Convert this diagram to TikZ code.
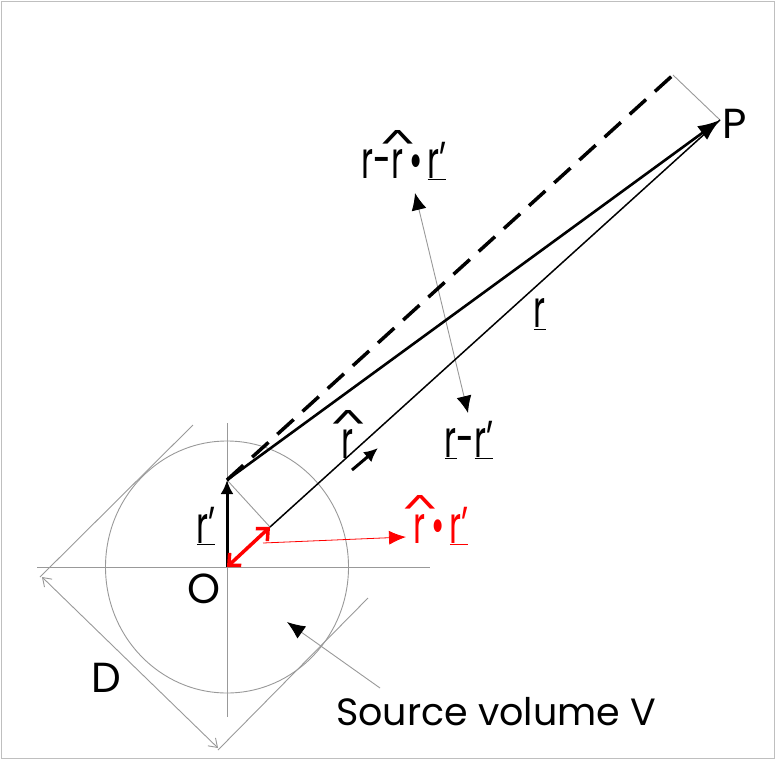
\documentclass[tikz,border=0pt]{standalone}
\usepackage{fontspec}
\usepackage{graphicx}
\setmainfont{Poppins}
\usetikzlibrary{arrows.meta}
\newcommand\ru{\underline{r}}
\newcommand\rpr{\underline{r\kern-0.02em’}}
\newcommand\rh{\ooalign{r\cr\hidewidth\raisebox{0.56em}{\scalebox{1.7}[0.5]{\textasciicircum}}\hidewidth\cr}}
\newcommand\lab[1]{\scalebox{0.62}[1]{#1}}
\begin{document}
\begin{tikzpicture}[x=1pt,y=-1pt,
  guide/.style={draw=black!40, line width=0.9pt},
  big/.style={font=\fontsize{42}{42}\selectfont, inner sep=0pt},
  lbl/.style={font=\fontsize{52}{52}\selectfont, inner sep=0pt},
  fat/.style={-{Latex[length=14pt,width=13pt]}, line width=3pt}]
\useasboundingbox (0,0) rectangle (776,760);
\draw[black!25, line width=1pt] (1.5,1.5) rectangle (774.5,758.5);

% key points
\coordinate (O) at (227,567);
\coordinate (Rp) at (227,480);
\coordinate (P) at (720,120);
\coordinate (Q) at (270,527);
\coordinate (Dend) at (673,75);
\coordinate (ax1) at (37,567);
\coordinate (ax2) at (430,567);
\coordinate (ay1) at (227,423);
\coordinate (ay2) at (227,717);
\coordinate (t1a) at (40,577);
\coordinate (t1b) at (193,425);
\coordinate (t2a) at (218,750);
\coordinate (t2b) at (368,598);
\coordinate (d1) at (42,577);
\coordinate (d2) at (218,748);
\coordinate (s1) at (380,688);
\coordinate (s2) at (287,622);
\coordinate (h1) at (352,470);
\coordinate (h2) at (378,448);
\coordinate (m1) at (415,193);
\coordinate (m2) at (468,413);
\coordinate (red1) at (263,543);
\coordinate (red2) at (406,537);

% axes, circle, tangents
\draw[guide] (ax1) -- (ax2);
\draw[guide] (ay1) -- (ay2);
\draw[guide] (O) ellipse [x radius=121.5pt, y radius=126pt];
\draw[guide] (t1a) -- (t1b);
\draw[guide] (t2a) -- (t2b);
\draw[guide, {Straight Barb[length=8pt,width=11pt]}-{Straight Barb[length=8pt,width=11pt]}] (d1) -- (d2);

% source arrow
\draw[guide, -{Latex[length=18pt,width=15pt,color=black]}] (s1) -- (s2);

% helper lines
\draw[guide] (Rp) -- (Q);
\draw[guide] (Dend) -- (P);
\draw[guide, {Latex[length=17pt,width=15pt,color=black]}-{Latex[length=17pt,width=15pt,color=black]}] (m1) -- (m2);

% main vectors
\draw[line width=3.5pt, dash pattern=on 22pt off 12pt] (Rp) -- (Dend);
\draw[line width=1.5pt] (Q) -- (P);
\draw[line width=2.6pt, -{Latex[length=22pt,width=17pt]}] (Rp) -- (P);
\draw[fat] (O) -- (Rp);
\draw[fat] (h1) -- (h2);

% red
\draw[red, line width=0.8pt, -{Latex[length=17pt,width=14pt]}] (red1) -- (red2);
\draw[red, line width=3.5pt, {Straight Barb[length=9pt,width=17pt]}-{Straight Barb[length=9pt,width=17pt]}] (O) -- (Q);

% labels
\node[big] (lP) at (735,124) {P};
\node[big] (lO) at (204,589) {O};
\node[big] (lD) at (106,678) {D};
\node[big, font=\fontsize{38}{38}\selectfont] (lS) at (496,712) {Source volume V};
\node[lbl] (lr) at (540,314) {\lab{\ru}};
\node[lbl, anchor=base] (lrh) at (348,458) {\lab{\rh}};
\node[lbl] (lrp) at (206,526) {\lab{\rpr}};
\node[lbl] (lrr) at (469,440) {\lab{\ru-\rpr}};
\node[lbl, anchor=base] (lrrr) at (404,178) {\lab{r-\rh\,\textbullet\,\rpr}};
\node[lbl, red, anchor=base] (lred) at (441,543) {\lab{\rh\,\textbullet\,\rpr}};
\end{tikzpicture}
\end{document}
